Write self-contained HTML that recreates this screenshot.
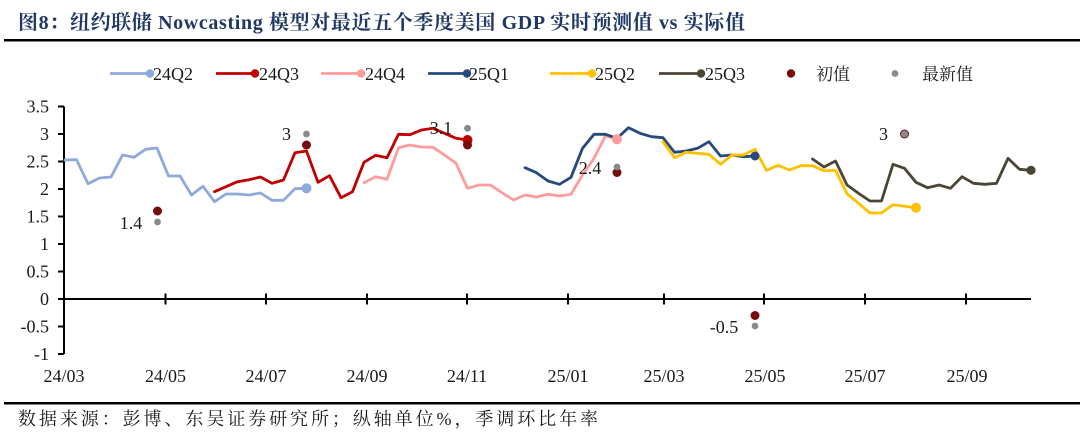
<!DOCTYPE html>
<html>
<head>
<meta charset="utf-8">
<style>
  html, body { margin:0; padding:0; background:#fff; }
  body { width:1080px; height:436px; overflow:hidden; }
  svg { display:block; }
  .t { font-family:"Liberation Serif","Noto Serif CJK SC",serif; fill:#1a1a1a; }
</style>
</head>
<body>
<svg width="1080" height="436" viewBox="0 0 1080 436" xmlns="http://www.w3.org/2000/svg">
  <!-- Title -->
  <text x="18" y="29" textLength="727" lengthAdjust="spacing" style="font-family:'Liberation Serif','Noto Serif CJK SC',serif;font-weight:bold;font-size:20px;fill:#1F3864;">图8：纽约联储 Nowcasting 模型对最近五个季度美国 GDP 实时预测值 vs 实际值</text>
  <rect x="4" y="39" width="1076" height="2.5" fill="#000"/>

  <!-- Legend -->
  <g stroke-width="2.75" fill="none">
    <line x1="110" y1="73.5" x2="150" y2="73.5" stroke="#8EA9DB"/>
    <line x1="216" y1="73.5" x2="255" y2="73.5" stroke="#C00000"/>
    <line x1="321" y1="73.5" x2="361" y2="73.5" stroke="#FF9B9B"/>
    <line x1="428" y1="73.5" x2="467" y2="73.5" stroke="#264A7C"/>
    <line x1="550" y1="73.5" x2="592" y2="73.5" stroke="#FFC000"/>
    <line x1="659" y1="73.5" x2="701" y2="73.5" stroke="#4B4535"/>
  </g>
  <circle cx="150" cy="73.5" r="4.2" fill="#8EA9DB"/>
  <circle cx="255" cy="73.5" r="4.2" fill="#C00000"/>
  <circle cx="361" cy="73.5" r="4.2" fill="#FF9B9B"/>
  <circle cx="467" cy="73.5" r="4.2" fill="#264A7C"/>
  <circle cx="592" cy="73.5" r="4.2" fill="#FFC000"/>
  <circle cx="701" cy="73.5" r="4.2" fill="#4B4535"/>
  <circle cx="791" cy="73.5" r="4.2" fill="#750D0D"/>
  <circle cx="895" cy="73.5" r="3.4" fill="#8A8A8A"/>
  <g class="t" style="font-size:18px;">
    <text x="153" y="80">24Q2</text>
    <text x="259" y="80">24Q3</text>
    <text x="365" y="80">24Q4</text>
    <text x="469" y="80">25Q1</text>
    <text x="595" y="80">25Q2</text>
    <text x="705" y="80">25Q3</text>
    <text x="816" y="80" style="font-size:17px;">初值</text>
    <text x="922" y="80" style="font-size:17px;">最新值</text>
  </g>

  <!-- Y axis -->
  <g stroke="#000" stroke-width="2">
    <line x1="64" y1="106.5" x2="64" y2="354"/>
    <line x1="58" y1="106.5" x2="64" y2="106.5"/>
    <line x1="58" y1="134" x2="64" y2="134"/>
    <line x1="58" y1="161.5" x2="64" y2="161.5"/>
    <line x1="58" y1="189" x2="64" y2="189"/>
    <line x1="58" y1="216.5" x2="64" y2="216.5"/>
    <line x1="58" y1="244" x2="64" y2="244"/>
    <line x1="58" y1="271.5" x2="64" y2="271.5"/>
    <line x1="58" y1="299" x2="64" y2="299"/>
    <line x1="58" y1="326.5" x2="64" y2="326.5"/>
    <line x1="58" y1="354" x2="64" y2="354"/>
  </g>
  <g class="t" style="font-size:18px;" text-anchor="end">
    <text x="49" y="112.5">3.5</text>
    <text x="49" y="140">3</text>
    <text x="49" y="167.5">2.5</text>
    <text x="49" y="195">2</text>
    <text x="49" y="222.5">1.5</text>
    <text x="49" y="250">1</text>
    <text x="49" y="277.5">0.5</text>
    <text x="49" y="305">0</text>
    <text x="49" y="332.5">-0.5</text>
    <text x="49" y="360">-1</text>
  </g>

  <!-- X axis -->
  <g stroke="#000" stroke-width="2">
    <line x1="64" y1="299" x2="1031" y2="299"/>
    <line x1="165.5" y1="293.5" x2="165.5" y2="304.5"/>
    <line x1="266" y1="293.5" x2="266" y2="304.5"/>
    <line x1="367" y1="293.5" x2="367" y2="304.5"/>
    <line x1="467" y1="293.5" x2="467" y2="304.5"/>
    <line x1="568" y1="293.5" x2="568" y2="304.5"/>
    <line x1="664" y1="293.5" x2="664" y2="304.5"/>
    <line x1="764" y1="293.5" x2="764" y2="304.5"/>
    <line x1="865" y1="293.5" x2="865" y2="304.5"/>
    <line x1="966" y1="293.5" x2="966" y2="304.5"/>
  </g>
  <g class="t" style="font-size:18px;" text-anchor="middle">
    <text x="64" y="382">24/03</text>
    <text x="165.5" y="382">24/05</text>
    <text x="266" y="382">24/07</text>
    <text x="367" y="382">24/09</text>
    <text x="467" y="382">24/11</text>
    <text x="568" y="382">25/01</text>
    <text x="664" y="382">25/03</text>
    <text x="765" y="382">25/05</text>
    <text x="865" y="382">25/07</text>
    <text x="967" y="382">25/09</text>
  </g>

  <!-- Series -->
  <g fill="none" stroke-width="2.8" stroke-linejoin="round" stroke-linecap="round">
    <polyline stroke="#8EA9DB" points="65,160 76.5,159.7 88,183.7 99.5,178 111,177 122.5,155 134,157.3 145.5,149.3 157,148 168.5,176 180,176 191.5,195 203,186.3 214.5,201.7 226,194 237.5,194 249,195 260.5,193 272,200.3 283.5,200.3 295,188.7 306.5,188.3"/>
    <polyline stroke="#C00000" points="214.5,191.7 226,186.7 237.5,181.7 249,179.7 260.5,177 272,183.3 283.5,180 295,152.7 306.5,151 318,182.3 329.5,175.7 341,197.7 352.5,191.7 364,162.3 375.5,155.3 387,157.7 398.5,134.3 410,134.7 421.5,130 433,128.3 444.5,133.3 456,138.3 467.5,140"/>
    <polyline stroke="#FF9B9B" points="364,182.7 375.5,176.7 387,179.3 398.5,147.7 410,145 421.5,147 433,147.3 444.5,155 456,163.3 467.5,188.3 479,185 490.5,185 502,192.7 513.5,200 525,195 536.5,197 548,194.3 559.5,196 571,194.3 582.5,175 594,158.3 605.5,135.7 617,139.3"/>
    <polyline stroke="#264A7C" points="525,167.7 536.5,172.7 548,181 559.5,184.3 571,177.3 582.5,148.3 594,134.3 605.5,134.3 617,138.3 628.5,127.7 640,133.3 651.5,136.7 663,137.7 674.5,152.3 686,151 697.5,148.3 709,141.7 720.5,156 732,155 743.5,156.7 755,156"/>
    <polyline stroke="#FFC000" points="663,141.7 674.5,157.7 686,152.3 697.5,153.3 709,154.3 720.5,164.3 732,155 743.5,155 755,149.3 766.5,170.3 778,165.3 789.5,170 801,165.7 812.5,165.7 824,170.7 835.5,170.3 847,193.7 858.5,203.3 870,213 881.5,213 893,204.7 904.5,206.3 916,207.7"/>
    <polyline stroke="#4B4535" points="812.5,159 824,167 835.5,161 847,185 858.5,193.3 870,201 881.5,201 893,164.3 904.5,168.3 916,182.3 927.5,187.7 939,185 950.5,188.3 962,176.7 973.5,183.3 985,184.3 996.5,183.3 1008,158.3 1019.5,169.3 1031,170.3"/>
  </g>
  <!-- end markers -->
  <circle cx="306.5" cy="188.3" r="5" fill="#8EA9DB"/>
  <circle cx="467.5" cy="140" r="5" fill="#C00000"/>
  <circle cx="617" cy="139.3" r="5" fill="#FF9B9B"/>
  <circle cx="755" cy="156" r="4.5" fill="#264A7C"/>
  <circle cx="916" cy="207.7" r="5" fill="#FFC000"/>
  <circle cx="1031" cy="170.3" r="4.6" fill="#4B4535"/>

  <!-- 初值 -->
  <g fill="#750D0D">
    <circle cx="157.5" cy="211" r="4.5"/>
    <circle cx="306.5" cy="145" r="4.5"/>
    <circle cx="467.5" cy="145" r="4.5"/>
    <circle cx="617" cy="172.5" r="4.5"/>
    <circle cx="755" cy="315.5" r="4.5"/>
    <circle cx="904.5" cy="134" r="4.5"/>
  </g>
  <!-- 最新值 -->
  <g fill="#8A8A8A">
    <circle cx="157.5" cy="222" r="3.4"/>
    <circle cx="306.5" cy="134" r="3.4"/>
    <circle cx="467.5" cy="128.3" r="3.4"/>
    <circle cx="617" cy="167" r="3.4"/>
    <circle cx="755" cy="326" r="3.4"/>
    <circle cx="904.5" cy="134" r="3.6"/>
  </g>
  <!-- point labels -->
  <g class="t" style="font-size:18px;" text-anchor="middle">
    <text x="131" y="229">1.4</text>
    <text x="286.5" y="140">3</text>
    <text x="441" y="134">3.1</text>
    <text x="590" y="174">2.4</text>
    <text x="724" y="333">-0.5</text>
    <text x="883.5" y="140">3</text>
  </g>

  <!-- Footer -->
  <rect x="4" y="402" width="1076" height="2.5" fill="#000"/>
  <text x="18" y="425" textLength="580" lengthAdjust="spacing" style="font-family:'Liberation Serif','Noto Serif CJK SC',serif;font-size:18px;fill:#1a1a1a;">数据来源：彭博、东吴证券研究所；纵轴单位%，季调环比年率</text>
</svg>
</body>
</html>
